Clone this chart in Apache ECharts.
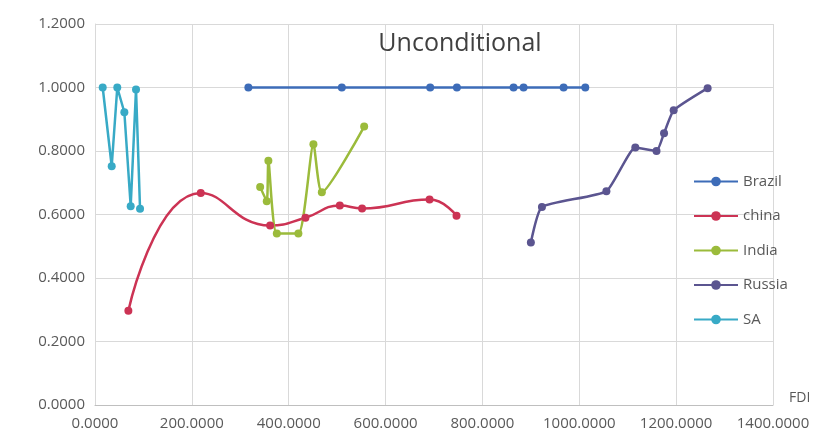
<!DOCTYPE html>
<html>
<head>
<meta charset="utf-8">
<script src="https://cdn.jsdelivr.net/npm/echarts@6/dist/echarts.min.js"></script>
<style>html,body{margin:0;padding:0;background:#fff;}#c{width:822px;height:435px;}</style>
</head>
<body>
<div id="c"></div>
<script>
var seriesNames = ['Brazil', 'china', 'India', 'Russia', 'SA'];
var brazilX = [316.7, 509.7, 692.1, 747.3, 864.3, 885.0, 967.6, 1012.4];
var brazilY = [1.0, 1.0, 1.0, 1.0, 1.0, 1.0, 1.0, 1.0];
var chinaX = [68.9, 218.4, 361.6, 434.5, 505.5, 551.5, 690.8, 746.5];
var chinaY = [0.297, 0.668, 0.565, 0.590, 0.628, 0.619, 0.647, 0.596];
var indiaX = [341.0, 354.7, 358.0, 375.4, 420.0, 451.0, 468.4, 555.8];
var indiaY = [0.687, 0.642, 0.769, 0.540, 0.540, 0.821, 0.670, 0.877];
var russiaX = [900.0, 922.9, 1056.0, 1115.7, 1159.5, 1175.0, 1194.9, 1265.0];
var russiaY = [0.512, 0.624, 0.673, 0.811, 0.800, 0.856, 0.928, 0.998];
var saX = [15.9, 34.5, 46.0, 60.6, 73.7, 84.7, 93.0];
var saY = [1.0, 0.752, 1.0, 0.922, 0.626, 0.994, 0.618];
var xTicks = [0, 200, 400, 600, 800, 1000, 1200, 1400];
var yTicks = [0, 0.2, 0.4, 0.6, 0.8, 1.0, 1.2];

function pairs(xs, ys) { return xs.map(function (x, i) { return [x, ys[i]]; }); }
var colors = ['#3D6CB8', '#CC3354', '#9BBB3B', '#5B5590', '#38AAC6'];
var xs = [brazilX, chinaX, indiaX, russiaX, saX];
var ys = [brazilY, chinaY, indiaY, russiaY, saY];
var smooth = [false, 0.5, 0.2, 0.15, false];

var chart = echarts.init(document.getElementById('c'));
var font = 'Open Sans, Liberation Sans, sans-serif';
chart.setOption({
  animation: false,
  title: {
    text: 'Unconditional', left: 455, top: 26, textAlign: 'center',
    textStyle: { fontFamily: font, fontWeight: 'normal', fontSize: 25, color: '#404040' }
  },
  grid: { left: 95, right: 49, top: 24, bottom: 30, containLabel: false },
  legend: {
    orient: 'vertical', left: 688, top: 169, itemWidth: 44, itemHeight: 12, itemGap: 19.5,
    textStyle: { fontFamily: font, fontSize: 15, color: '#595959' },
    data: seriesNames
  },
  xAxis: {
    type: 'value', min: xTicks[0], max: xTicks[xTicks.length - 1], interval: 200,
    name: 'FDI', nameLocation: 'end', nameGap: 16,
    nameTextStyle: { fontFamily: font, fontSize: 14, color: '#595959', verticalAlign: 'bottom', padding: [0, 0, 0, 0] },
    axisLine: { show: true, lineStyle: { color: '#BFBFBF' } },
    axisTick: { show: false },
    splitLine: { show: true, lineStyle: { color: '#D9D9D9' } },
    axisLabel: { fontFamily: font, fontSize: 15, color: '#595959', margin: 11,
      formatter: function (v) { return v.toFixed(4); } }
  },
  yAxis: {
    type: 'value', min: yTicks[0], max: yTicks[yTicks.length - 1], interval: 0.2,
    axisLine: { show: true, lineStyle: { color: '#D9D9D9' } },
    axisTick: { show: false },
    splitLine: { show: true, lineStyle: { color: '#D9D9D9' } },
    axisLabel: { fontFamily: font, fontSize: 15, color: '#595959', margin: 10,
      formatter: function (v) { return v.toFixed(4); } }
  },
  series: seriesNames.map(function (n, i) {
    return {
      name: n, type: 'line', data: pairs(xs[i], ys[i]), smooth: smooth[i],
      symbol: 'circle', symbolSize: 8,
      lineStyle: { width: 2.5, color: colors[i] },
      itemStyle: { color: colors[i] }
    };
  })
});
</script>
</body>
</html>
